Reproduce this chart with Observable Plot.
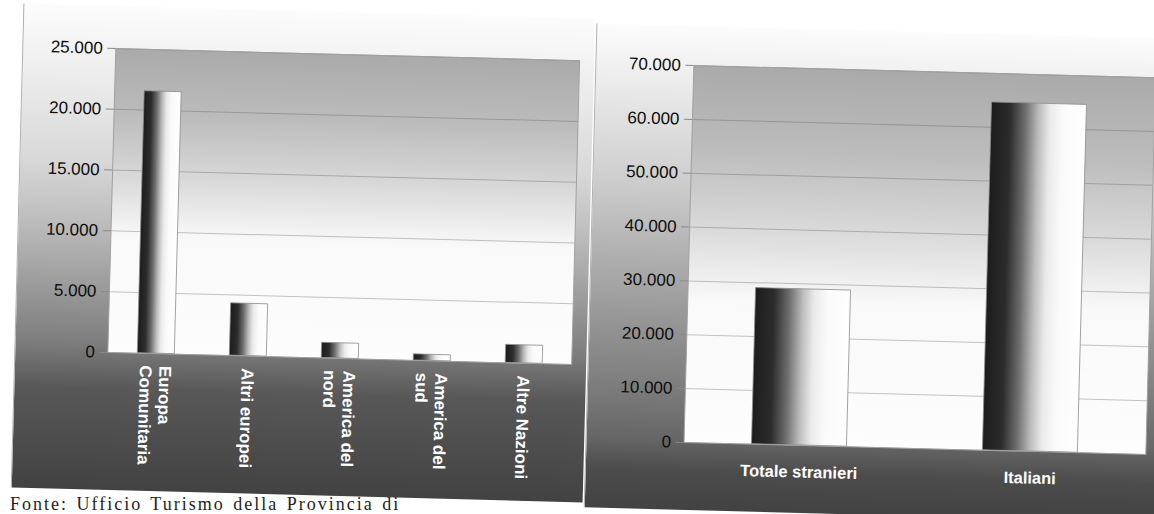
<!DOCTYPE html>
<html>
<head>
<meta charset="utf-8">
<script src="https://cdn.jsdelivr.net/npm/d3@7"></script>
<script src="https://cdn.jsdelivr.net/npm/@observablehq/plot@0.6"></script>
<style>
  html, body { margin: 0; padding: 0; background: #ffffff; width: 1154px; height: 514px; overflow: hidden; }
  .panel { position: absolute; transform: rotate(1.5deg); transform-origin: 50% 50%; box-sizing: border-box; border-left: 1px solid #b0b0b0; }
  #left { left: 17px; top: 11px; width: 572px; height: 484px;
    background: linear-gradient(to bottom, #fcfcfc 0%, #f4f4f4 8%, #d8d8d8 32%, #bcbcbc 45%, #9e9e9e 57%, #7c7c7c 70%, #585858 79%, #424242 100%); }
  #right { left: 590px; top: 31px; width: 580px; height: 484px;
    background: linear-gradient(to bottom, #fcfcfc 0%, #f1f1f1 8%, #d1d1d1 30%, #b5b5b5 45%, #989898 60%, #7c7c7c 75%, #676767 85%, #4c4c4c 92%, #424242 100%); }
  .panel svg { display: block; }
  #caption { position: absolute; left: 10px; top: 495px; font-family: "Liberation Serif", "Times New Roman", serif; font-size: 18px; line-height: 1; letter-spacing: 2px; word-spacing: 2px; color: #1e1e1e; white-space: nowrap; }
</style>
</head>
<body>
<svg width="0" height="0" style="position:absolute">
  <defs>
    <linearGradient id="plotBg" x1="0" y1="0" x2="0" y2="1">
      <stop offset="0%" stop-color="#aaaaaa"/>
      <stop offset="22%" stop-color="#bcbcbc"/>
      <stop offset="42%" stop-color="#d8d8d8"/>
      <stop offset="56%" stop-color="#efefef"/>
      <stop offset="62%" stop-color="#f9f9f9"/>
      <stop offset="100%" stop-color="#fdfdfd"/>
    </linearGradient>
    <linearGradient id="barGrad" x1="0" y1="0" x2="1" y2="0">
      <stop offset="0%" stop-color="#1c1c1c"/>
      <stop offset="20%" stop-color="#2c2c2c"/>
      <stop offset="36%" stop-color="#6e6e6e"/>
      <stop offset="50%" stop-color="#bcbcbc"/>
      <stop offset="62%" stop-color="#eaeaea"/>
      <stop offset="76%" stop-color="#fafafa"/>
      <stop offset="100%" stop-color="#ffffff"/>
    </linearGradient>
  </defs>
</svg>
<div id="left" class="panel"></div>
<div id="right" class="panel"></div>
<div id="caption">Fonte: Ufficio Turismo della Provincia di</div>
<script>
// ---- data ----
const leftCategories = ["Europa Comunitaria", "Altri europei", "America del nord", "America del sud", "Altre Nazioni"];
const leftLabels = ["Europa\nComunitaria", "Altri europei", "America del\nnord", "America del\nsud", "Altre Nazioni"];
const leftValues = [21550, 4300, 1250, 500, 1480];
const leftTicks = [0, 5000, 10000, 15000, 20000, 25000];

const rightCategories = ["Totale stranieri", "Italiani"];
const rightLabels = ["Totale stranieri", "Italiani"];
const rightValues = [29000, 64600];
const rightTicks = [0, 10000, 20000, 30000, 40000, 50000, 60000, 70000];

const fmt = d3.formatLocale({decimal: ",", thousands: ".", grouping: [3], currency: ["€", ""]}).format(",d");

function chart(o) {
  const data = o.cats.map((c, i) => ({cat: c, value: o.values[i], label: o.labels[i]}));
  return Plot.plot({
    width: o.width, height: o.height,
    marginLeft: o.ml, marginRight: o.mr, marginTop: o.mt, marginBottom: o.mb,
    style: {background: "transparent", fontFamily: "'Liberation Sans', Arial, sans-serif", overflow: "visible"},
    x: {domain: o.cats, paddingInner: o.pad, paddingOuter: o.pad / 2, axis: null},
    y: {domain: [0, o.max], axis: null},
    marks: [
      Plot.frame({fill: "url(#plotBg)", stroke: null}),
      Plot.gridY(o.ticks, {stroke: "#5a5a5a", strokeOpacity: 0.35}),
      Plot.barY(data, {x: "cat", y: "value", fill: "url(#barGrad)", stroke: "#8c8c8c", strokeWidth: 0.8}),
      Plot.frame({stroke: "#a0a0a0", strokeWidth: 1}),
      Plot.axisY(o.ticks, {tickFormat: fmt, tickSize: 8, tickPadding: 5, fontSize: 17, fill: "#0e0e0e", stroke: "#8a8a8a", label: null}),
      Plot.text(data, {x: "cat", frameAnchor: "bottom", text: "label", rotate: o.rot,
                       textAnchor: o.rot ? "start" : "middle", lineAnchor: "middle", lineHeight: 1.15,
                       dy: o.xPad, fontSize: o.xFont, fontWeight: "bold", fill: "#ffffff"})
    ]
  });
}

document.getElementById("left").append(chart({
  cats: leftCategories, labels: leftLabels, values: leftValues, ticks: leftTicks, max: 25000,
  width: 571, height: 484, ml: 92, mr: 15, mt: 42, mb: 138, pad: 0.6, rot: 90, xPad: 12, xFont: 17
}));
document.getElementById("right").append(chart({
  cats: rightCategories, labels: rightLabels, values: rightValues, ticks: rightTicks, max: 70000,
  width: 579, height: 484, ml: 97, mr: 20, mt: 39, mb: 68, pad: 0.59, rot: 0, xPad: 26, xFont: 16.5
}));
</script>
</body>
</html>
